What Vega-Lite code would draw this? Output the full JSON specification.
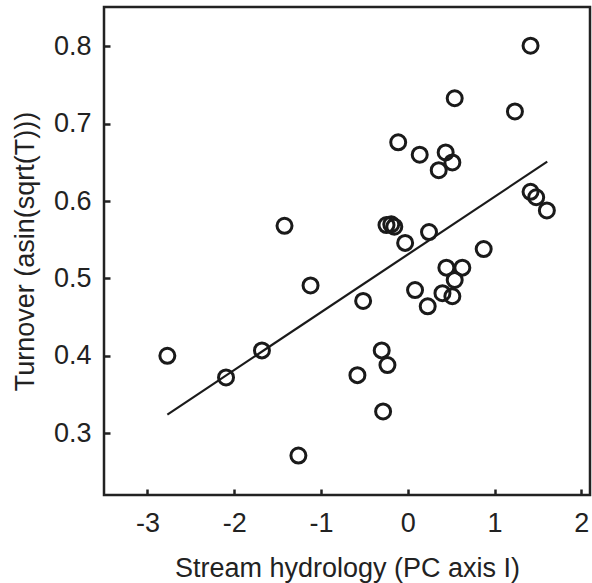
{
  "$schema": "https://vega.github.io/schema/vega-lite/v6.json",
  "autosize": {"type": "none"},
  "padding": {"left": 104, "top": 7, "right": 2, "bottom": 88},
  "width": 486,
  "height": 488,
  "background": "white",
  "config": {
    "view": {"stroke": "#222222", "strokeWidth": 2.5},
    "font": "Liberation Sans",
    "axis": {
      "domain": false,
      "grid": false,
      "ticks": true,
      "tickSize": -6,
      "tickWidth": 2.5,
      "tickColor": "#222222",
      "labelFont": "Liberation Sans",
      "labelFontSize": 27,
      "labelColor": "#222222",
      "titleFont": "Liberation Sans",
      "titleFontSize": 27,
      "titleFontWeight": "normal",
      "titleColor": "#222222"
    }
  },
  "datasets": {
    "pts": [
      {"x": -1.42, "y": 0.568},
      {"x": -2.77, "y": 0.400},
      {"x": -2.094, "y": 0.372},
      {"x": -1.68, "y": 0.407},
      {"x": -1.12, "y": 0.491},
      {"x": -1.26, "y": 0.271},
      {"x": 1.415, "y": 0.801},
      {"x": 0.541, "y": 0.733},
      {"x": 1.235, "y": 0.716},
      {"x": -0.11, "y": 0.676},
      {"x": 0.138, "y": 0.660},
      {"x": 0.437, "y": 0.663},
      {"x": 0.514, "y": 0.650},
      {"x": 0.357, "y": 0.640},
      {"x": 1.415, "y": 0.612},
      {"x": 1.48, "y": 0.605},
      {"x": 1.603, "y": 0.588},
      {"x": -0.245, "y": 0.569},
      {"x": -0.19, "y": 0.570},
      {"x": -0.155, "y": 0.567},
      {"x": -0.03, "y": 0.546},
      {"x": 0.245, "y": 0.560},
      {"x": 0.875, "y": 0.538},
      {"x": 0.445, "y": 0.514},
      {"x": 0.629, "y": 0.514},
      {"x": 0.541, "y": 0.498},
      {"x": 0.40, "y": 0.481},
      {"x": 0.514, "y": 0.477},
      {"x": 0.084, "y": 0.485},
      {"x": 0.23, "y": 0.464},
      {"x": -0.514, "y": 0.471},
      {"x": -0.30, "y": 0.407},
      {"x": -0.234, "y": 0.388},
      {"x": -0.58, "y": 0.375},
      {"x": -0.284, "y": 0.328}
    ],
    "fit": [
      {"x": -2.77, "y": 0.324},
      {"x": 1.607, "y": 0.651}
    ]
  },
  "layer": [
    {
      "data": {"name": "fit"},
      "mark": {"type": "line", "color": "#1a1a1a", "strokeWidth": 2.2},
      "encoding": {
        "x": {"field": "x", "type": "quantitative"},
        "y": {"field": "y", "type": "quantitative"}
      }
    },
    {
      "data": {"name": "pts"},
      "mark": {"type": "point", "shape": "circle", "filled": false, "color": "#1a1a1a", "strokeWidth": 3, "size": 225, "opacity": 1},
      "encoding": {
        "x": {
          "field": "x", "type": "quantitative",
          "scale": {"domain": [-3.5, 2.1], "nice": false, "zero": false},
          "axis": {"values": [-3, -2, -1, 0, 1, 2], "labelExpr": "'' + datum.value", "title": "Stream hydrology (PC axis I)", "labelPadding": 21, "titleX": 243, "titleY": 81, "titleBaseline": "alphabetic"}
        },
        "y": {
          "field": "y", "type": "quantitative",
          "scale": {"domain": [0.22, 0.851], "nice": false, "zero": false},
          "axis": {"values": [0.3, 0.4, 0.5, 0.6, 0.7, 0.8], "format": ".1f", "title": "Turnover (asin(sqrt(T)))", "labelPadding": 19, "titleX": -71, "titleY": 244, "titleBaseline": "alphabetic"}
        }
      }
    }
  ]
}
